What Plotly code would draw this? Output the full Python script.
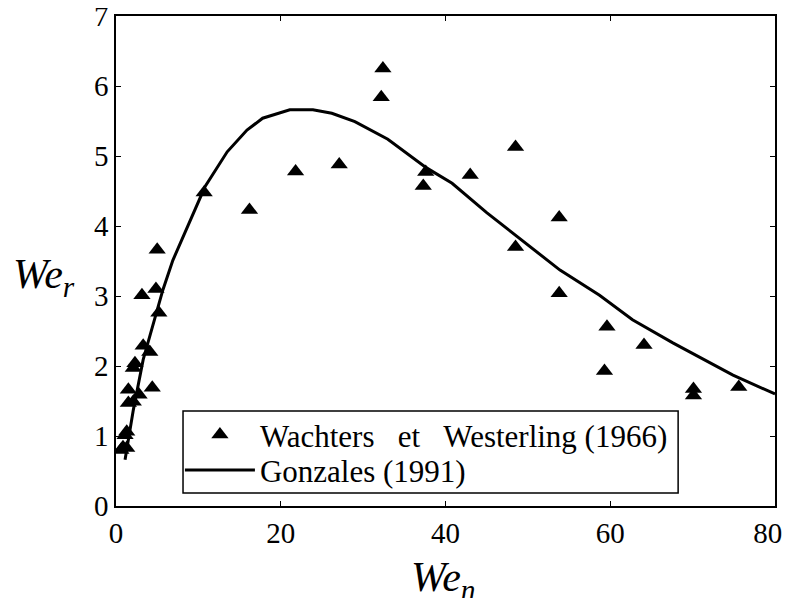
import plotly.graph_objects as go

# Experimental data: Wachters et Westerling (1966)
we_n_exp = [0.6, 0.85, 1.3, 1.1, 1.3, 1.5, 2.1, 1.5, 2.8, 4.4, 2.1, 2.3, 4.1, 3.3, 5.2,
            3.15, 4.85, 5.0, 10.7, 16.2, 21.8, 27.1, 32.2, 32.4, 37.3, 37.6, 43.0, 48.5,
            48.5, 53.8, 53.8, 59.6, 59.3, 64.1, 70.1, 70.1, 75.6]
we_r_exp = [0.8, 0.84, 0.83, 1.01, 1.06, 1.47, 1.49, 1.66, 1.59, 1.69, 1.97, 2.04, 2.2, 2.29, 2.76,
            3.01, 3.1, 3.66, 4.48, 4.23, 4.78, 4.88, 5.84, 6.25, 4.57, 4.77, 4.73, 5.13,
            3.7, 4.12, 3.04, 2.56, 1.93, 2.3, 1.67, 1.58, 1.7]

# Correlation curve: Gonzales (1991)
we_n_model = [1.1, 1.5, 2.1, 3.3, 4.5, 5.7, 6.9, 9.0, 10.8, 13.5, 15.9, 17.8, 21.1, 23.9,
              26.2, 29.0, 33.0, 37.7, 40.8, 45.0, 48.2, 53.9, 58.7, 62.7, 67.6, 74.9, 80.0]
we_r_model = [0.66, 0.95, 1.37, 2.09, 2.61, 3.09, 3.51, 4.09, 4.56, 5.06, 5.37, 5.54, 5.66, 5.66,
              5.61, 5.49, 5.24, 4.83, 4.61, 4.19, 3.9, 3.37, 3.01, 2.66, 2.33, 1.87, 1.6]

NB = "\u00a0"
x_ticks = [0, 20, 40, 60, 80]
x_tick_labels = ["0", "20", "40", "60", "80" + NB * 2]
y_ticks = [0, 1, 2, 3, 4, 5, 6, 7]

FONT = "Liberation Serif, Times New Roman, serif"

fig = go.Figure()
fig.add_trace(go.Scatter(
    x=we_n_exp, y=we_r_exp, mode="markers",
    name="Wachters" + NB * 3 + "et" + NB * 3 + "Westerling (1966)",
    marker=dict(symbol="triangle-up", size=15, color="black"),
    legend="legend",
))
fig.add_trace(go.Scatter(
    x=we_n_model, y=we_r_model, mode="lines",
    name="Gonzales (1991)",
    line=dict(color="black", width=3),
    legend="legend2",
))

axis_common = dict(
    showgrid=False, zeroline=False, showline=True, linecolor="black", linewidth=1.5,
    mirror="ticks", ticks="inside", ticklen=5, tickcolor="black", tickwidth=1,
    tickfont=dict(family=FONT, size=29, color="black"), automargin=False,
    ticklabeloverflow="allow",
)
fig.update_xaxes(range=[0, 80], tickvals=x_ticks, ticktext=x_tick_labels, **axis_common)
fig.update_yaxes(range=[0, 7], tickvals=y_ticks, **axis_common)

legend_common = dict(
    xanchor="left", yanchor="middle",
    bgcolor="rgba(0,0,0,0)", borderwidth=0,
    font=dict(family=FONT, size=31, color="black"),
    itemwidth=70,
)

fig.update_layout(
    width=783, height=590,
    margin=dict(l=108, r=16, t=8, b=92),
    paper_bgcolor="white", plot_bgcolor="white",
    font=dict(family=FONT, color="black"),
    showlegend=True,
    legend=dict(x=0.097, y=0.145, **legend_common),
    legend2=dict(x=0.097, y=0.073, **legend_common),
    shapes=[
        dict(type="rect", xref="paper", yref="paper",
             x0=0.1017, x1=0.853, y0=0.0265, y1=0.194,
             line=dict(color="black", width=1.5), fillcolor="white", layer="above"),
    ],
    annotations=[
        dict(text="<i>We<sub>n</sub></i>", xref="paper", yref="paper",
             x=0.496, y=-0.151, xanchor="center", yanchor="middle", showarrow=False,
             font=dict(family=FONT, size=42, color="black")),
        dict(text="<i>We<sub>r</sub></i>", xref="paper", yref="paper",
             x=-0.109, y=0.467, xanchor="center", yanchor="middle", showarrow=False,
             font=dict(family=FONT, size=42, color="black")),
    ],
)

fig.write_html("out.html")
